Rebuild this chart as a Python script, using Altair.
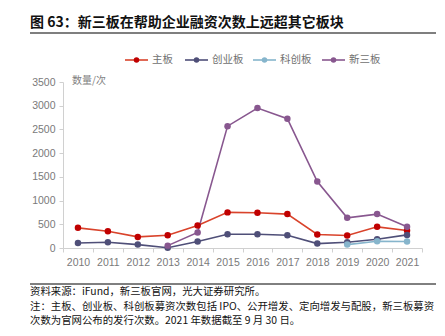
import altair as alt
import pandas as pd

years = [2010, 2011, 2012, 2013, 2014, 2015, 2016, 2017, 2018, 2019, 2020, 2021]
series = ["主板", "创业板", "科创板", "新三板"]
main_board = [425, 354, 234, 270, 475, 751, 743, 715, 284, 263, 446, 369]
chinext = [106, 121, 72, 5, 136, 291, 290, 270, 93, 121, 185, 276]
star_years = [2019, 2020, 2021]
star = [72, 142, 136]
neeq_years = [2013, 2014, 2015, 2016, 2017, 2018, 2019, 2020, 2021]
neeq = [50, 327, 2569, 2951, 2726, 1401, 637, 715, 446]

title = "图 63：新三板在帮助企业融资次数上远超其它板块"
unit_label = "数量/次"
footer = [
    "资料来源：iFund，新三板官网，光大证券研究所。",
    "注：主板、创业板、科创板募资次数包括 IPO、公开增发、定向增发与配股，新三板募资",
    "次数为官网公布的发行次数。2021 年数据截至 9 月 30 日。",
]

rows = []
for y, v in zip(years, main_board):
    rows.append({"year": str(y), "series": "主板", "value": v})
for y, v in zip(years, chinext):
    rows.append({"year": str(y), "series": "创业板", "value": v})
for y, v in zip(star_years, star):
    rows.append({"year": str(y), "series": "科创板", "value": v})
for y, v in zip(neeq_years, neeq):
    rows.append({"year": str(y), "series": "新三板", "value": v})
df = pd.DataFrame(rows)

FONT = "Noto Sans CJK SC"
NUMFONT = "Liberation Sans"
line_colors = ["#D9432B", "#4F4F78", "#86B5CC", "#88578F"]
point_colors = ["#C00000", "#4F4F78", "#86B5CC", "#88578F"]

W, H = 359, 166
L, T = 63, 82

x_enc = alt.X("year:O", sort=[str(y) for y in years], bandPosition=0.5,
              scale=alt.Scale(type="band", paddingInner=0, paddingOuter=0),
              axis=alt.Axis(title=None, labelAngle=0, labelColor="#7a7a7a", labelFontSize=10.5,
                            labelFont=NUMFONT, domainColor="#d0d0d0", tickColor="#d0d0d0",
                            tickBand="extent", tickSize=4, labelPadding=5))
y_enc = alt.Y("value:Q", scale=alt.Scale(domain=[0, 3500], nice=False),
              axis=alt.Axis(title=None, values=list(range(0, 3501, 500)), grid=False, format="d",
                            labelColor="#7a7a7a", labelFontSize=10.5, labelFont=NUMFONT,
                            domainColor="#d0d0d0", tickColor="#d0d0d0", tickSize=4,
                            labelPadding=4))

base = alt.Chart(df)
lines = base.mark_line(strokeWidth=1.6).encode(
    x=x_enc, y=y_enc,
    color=alt.Color("series:N", scale=alt.Scale(domain=series, range=line_colors), legend=None),
    detail="series:N",
)
points = base.mark_circle(size=42, opacity=1).encode(
    x=x_enc, y=y_enc,
    color=alt.Color("series:N", scale=alt.Scale(domain=series, range=point_colors), legend=None),
)

layers = [lines, points]

# title
layers.append(alt.Chart(pd.DataFrame({"t": [title]})).mark_text(
    align="left", baseline="alphabetic", font=FONT, fontSize=14, fontWeight="bold", color="#111111"
).encode(text="t:N", x=alt.value(30 - L), y=alt.value(27 - T)))
layers.append(alt.Chart(pd.DataFrame({"a": [0]})).mark_rule(color="#7f7f7f", strokeWidth=2).encode(
    x=alt.value(30 - L), x2=alt.value(436 - L), y=alt.value(33 - T)))

# legend
leg_starts = [125, 185, 253, 322]
for name, lc, pc, xs in zip(series, line_colors, point_colors, leg_starts):
    d = pd.DataFrame({"t": [name]})
    layers.append(alt.Chart(d).mark_rule(color=lc, strokeWidth=1.6).encode(
        x=alt.value(xs - L), x2=alt.value(xs + 23 - L), y=alt.value(60 - T)))
    layers.append(alt.Chart(d).mark_circle(color=pc, size=30, opacity=1).encode(
        x=alt.value(xs + 11.5 - L), y=alt.value(60 - T)))
    layers.append(alt.Chart(d).mark_text(align="left", baseline="middle", font=FONT, fontSize=10.5,
                                         color="#707070").encode(
        text="t:N", x=alt.value(xs + 27 - L), y=alt.value(60 - T)))

# unit label
layers.append(alt.Chart(pd.DataFrame({"t": [unit_label]})).mark_text(
    align="left", baseline="middle", font=FONT, fontSize=10, color="#808080"
).encode(text="t:N", x=alt.value(72 - L), y=alt.value(81 - T)))

# footer
layers.append(alt.Chart(pd.DataFrame({"a": [0]})).mark_rule(color="#000000", strokeWidth=1).encode(
    x=alt.value(30 - L), x2=alt.value(436 - L), y=alt.value(284 - T)))
for line, yy in zip(footer, [292, 306.5, 320.5]):
    layers.append(alt.Chart(pd.DataFrame({"t": [line]})).mark_text(
        align="left", baseline="middle", font=FONT, fontSize=10.4, color="#111111"
    ).encode(text="t:N", x=alt.value(30 - L), y=alt.value(yy - T)))

chart = alt.layer(*layers).resolve_scale(color="independent").properties(
    width=W, height=H,
    padding={"left": L, "top": T, "right": 445 - L - W, "bottom": 336 - T - H},
    autosize=alt.AutoSizeParams(type="none"),
    background="white",
).configure_view(stroke=None)

chart.save("out.html", embed_options={"renderer": "svg", "actions": False})
